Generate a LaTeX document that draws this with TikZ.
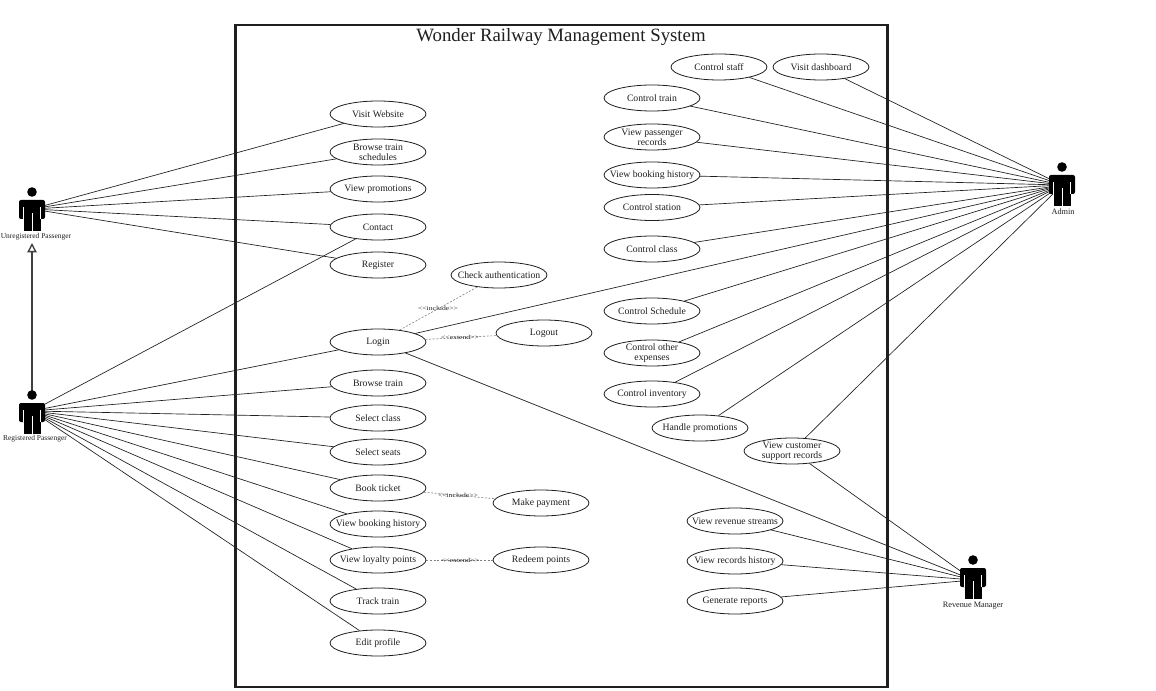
\documentclass[tikz,border=0pt]{standalone}
\usepackage{fontspec}
\setmainfont{Liberation Serif}
\usetikzlibrary{shapes.geometric,arrows.meta}
\definecolor{ink}{gray}{0.12}
\tikzset{
  usecase/.style={ellipse,draw=ink,line width=0.6pt,fill=white,minimum width=72pt,minimum height=19.5pt,inner xsep=-16pt,inner ysep=-8pt,align=center,text=ink,font=\fontsize{7.3}{7.7}\selectfont},
  assoc/.style={draw=ink,line width=0.5pt},
  dep/.style={draw=gray,line width=0.45pt,dashed,dash pattern=on 1.5pt off 1.2pt},
  deplabel/.style={inner sep=0pt,text=ink,font=\fontsize{4.6}{5}\selectfont},
  actorlabel/.style={inner sep=0pt,text=ink,font=\fontsize{6.2}{6.5}\selectfont},
  leftlabel/.style={inner sep=0pt,text=ink,font=\fontsize{5.6}{6}\selectfont},
  frame/.style={draw=ink,line width=1.6pt},
  gen/.style={draw=ink!85,line width=1.3pt,-{Triangle[open,fill=white,length=7pt,width=7pt,line width=1pt]}},
}
\newcommand{\actorfig}[2]{%
  \begin{scope}[shift={(#1,#2)}]
    \fill[black] (0,-6) circle[radius=4.8];
    \fill[black,rounded corners=1.5pt] (-13,2) rectangle (13,21);
    \fill[black] (-8.5,10) rectangle (8.5,33);
    \fill[white] (-9,9) rectangle (-8.2,21);
    \fill[white] (8.2,9) rectangle (9,21);
    \fill[white] (-0.4,15) rectangle (0.4,33);
  \end{scope}}
\newcommand{\stereo}[1]{\scalebox{1.25}[1]{\textless{}\textless{}#1\textgreater{}\textgreater{}}}
\begin{document}
\begin{tikzpicture}[x=0.75pt,y=-0.75pt]
\useasboundingbox (0,0) rectangle (1156,691);
\fill[white] (0,0) rectangle (1156,691);
% actor anchor points
\coordinate (unreg) at (32,209);
\coordinate (reg) at (32,411);
\coordinate (admin) at (1062,185);
\coordinate (rev) at (973,580);
\coordinate (unregfoot) at (32,243);
\coordinate (reghead) at (32,392);
% system frame
\node[frame,minimum width=489pt,minimum height=496.5pt,inner sep=0pt] (sys) at (561.5,356) {};
\node[inner sep=0pt,text=ink,font=\fontsize{14.1}{16}\selectfont] (title) at (561,37) {Wonder Railway Management System};
% left column
\node[usecase] (visit) at (378,114) {Visit Website};
\node[usecase] (sched) at (378,152) {Browse train\\schedules};
\node[usecase] (promo) at (378,189) {View promotions};
\node[usecase] (contact) at (378,227) {Contact};
\node[usecase] (register) at (378,265) {Register};
\node[usecase] (login) at (378,342) {Login};
\node[usecase] (browse) at (378,383) {Browse train};
\node[usecase] (class) at (378,418) {Select class};
\node[usecase] (seats) at (378,452) {Select seats};
\node[usecase] (book) at (378,488) {Book ticket};
\node[usecase] (bhist) at (378,524) {View booking history};
\node[usecase] (loyal) at (378,560) {View loyalty points};
\node[usecase] (track) at (378,601) {Track train};
\node[usecase] (edit) at (378,643) {Edit profile};
% middle column
\node[usecase] (auth) at (499,275) {Check authentication};
\node[usecase] (logout) at (544,333) {Logout};
\node[usecase] (pay) at (541,503) {Make payment};
\node[usecase] (redeem) at (541,560) {Redeem points};
% right side
\node[usecase] (staff) at (719,67) {Control staff};
\node[usecase] (dash) at (821,67) {Visit dashboard};
\node[usecase] (ctrain) at (652,98) {Control train};
\node[usecase] (precs) at (652,137) {View passenger\\records};
\node[usecase] (ahist) at (652,175) {View booking history};
\node[usecase] (station) at (652,207.5) {Control station};
\node[usecase] (cclass) at (652,249) {Control class};
\node[usecase] (csched) at (652,311) {Control Schedule};
\node[usecase] (exp) at (652,353) {Control other\\expenses};
\node[usecase] (inv) at (652,394) {Control inventory};
\node[usecase] (hpromo) at (700,428) {Handle promotions};
\node[usecase] (support) at (792,451) {View customer\\support records};
\node[usecase] (revs) at (735,521) {View revenue streams};
\node[usecase] (recs) at (735,561) {View records history};
\node[usecase] (reports) at (735,601) {Generate reports};
% associations
\foreach \u in {visit,sched,promo,contact,register} \draw[assoc] (unreg) -- (\u);
\draw[assoc] (reg) -- (contact);
\foreach \u in {login,browse,class,seats,book,bhist,loyal,track,edit} \draw[assoc] (reg) -- (\u);
\foreach \u in {staff,dash,ctrain,precs,ahist,station,cclass,login,csched,exp,inv,hpromo,support} \draw[assoc] (admin) -- (\u);
\foreach \u in {support,login,revs,recs,reports} \draw[assoc] (rev) -- (\u);
% dependencies
\draw[dep] (login) -- (auth);
\draw[dep] (login) -- (logout);
\draw[dep] (book) -- (pay);
\draw[dep] (loyal) -- (redeem);
\node[deplabel] (l1) at (438,308) {\stereo{include}};
\node[deplabel] (l2) at (460,337) {\stereo{extend}};
\node[deplabel] (l3) at (458,495) {\stereo{include}};
\node[deplabel] (l4) at (460,560) {\stereo{extend}};
% generalisation
\draw[gen] (reghead) -- (unregfoot);
% actors
\actorfig{32}{198}
\actorfig{32}{401}
\actorfig{1062}{173}
\actorfig{973}{566}
\node[leftlabel] (unregl) at (36,237) {Unregistered Passenger};
\node[leftlabel] (regl) at (35,439) {Registered Passenger};
\node[actorlabel] (adminl) at (1063,212) {Admin};
\node[actorlabel] (revl) at (973,606) {Revenue Manager};
\end{tikzpicture}
\end{document}
